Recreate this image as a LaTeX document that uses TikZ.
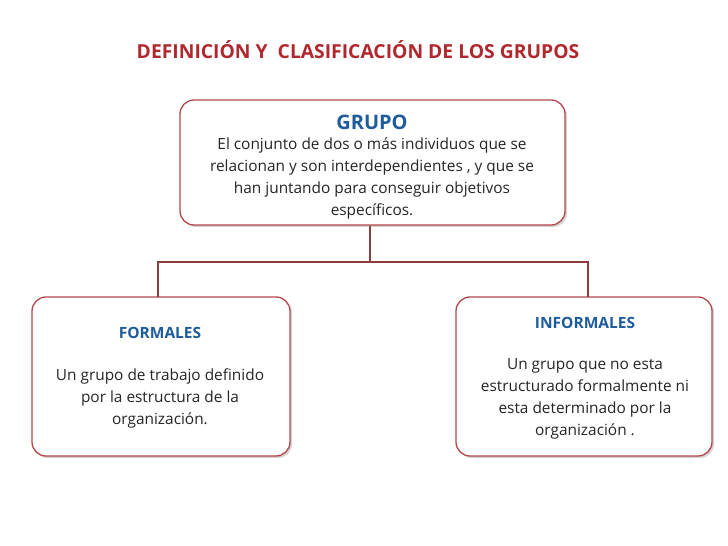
\documentclass[tikz,border=0pt]{standalone}
\usepackage{fontspec}
\setmainfont{Open Sans}
\usetikzlibrary{shadows}
\definecolor{dred}{HTML}{B0282E}
\definecolor{bord}{HTML}{B5474B}
\definecolor{conn}{HTML}{8E3B3B}
\definecolor{tblue}{HTML}{1F5C9E}
\begin{document}
\begin{tikzpicture}[x=1pt,y=1pt,
  box/.style={draw=bord,line width=1.3pt,rounded corners=14pt,fill=white,
    drop shadow={shadow xshift=2pt,shadow yshift=-2pt,opacity=0.35}},
  txt/.style={align=center,font=\fontsize{15.4}{22}\selectfont,text=black!85},
  head/.style={font=\fontsize{15.5}{18}\selectfont\bfseries,text=tblue},
  conline/.style={draw=conn,line width=2.6pt}]
\useasboundingbox (0,0) rectangle (728,546);
\node[font=\fontsize{19.3}{22}\selectfont\bfseries,text=dred] (title) at (358,496) {DEFINICIÓN Y\ \ CLASIFICACIÓN DE LOS GRUPOS};
\node[box,minimum width=385pt,minimum height=125pt] (top) at (372.5,383.5) {};
\node[box,minimum width=258pt,minimum height=159pt] (left) at (161,169.5) {};
\node[box,minimum width=256pt,minimum height=159pt] (right) at (584,169.5) {};
\node[head,font=\fontsize{20}{22}\selectfont\bfseries] (gh) at (372,424) {GRUPO};
\node[txt] (gt) at (372,368) {El conjunto de dos o más individuos que se\\relacionan y son interdependientes , y que se\\han juntando para conseguir objetivos\\específicos.};
\node[head] (lh) at (160,213) {FORMALES};
\node[txt] (lt) at (160,148) {Un grupo de trabajo definido\\por la estructura de la\\organización.};
\node[head] (rh) at (585,223) {INFORMALES};
\node[txt] (rt) at (585,147) {Un grupo que no esta\\estructurado formalmente ni\\esta determinado por la\\organización .};
\coordinate (j) at (370,284);
\draw[conline] (top.south -| j) -- (j);
\draw[conline] (158,249) |- (j);
\draw[conline] (588,249) |- (j);
\end{tikzpicture}
\end{document}
